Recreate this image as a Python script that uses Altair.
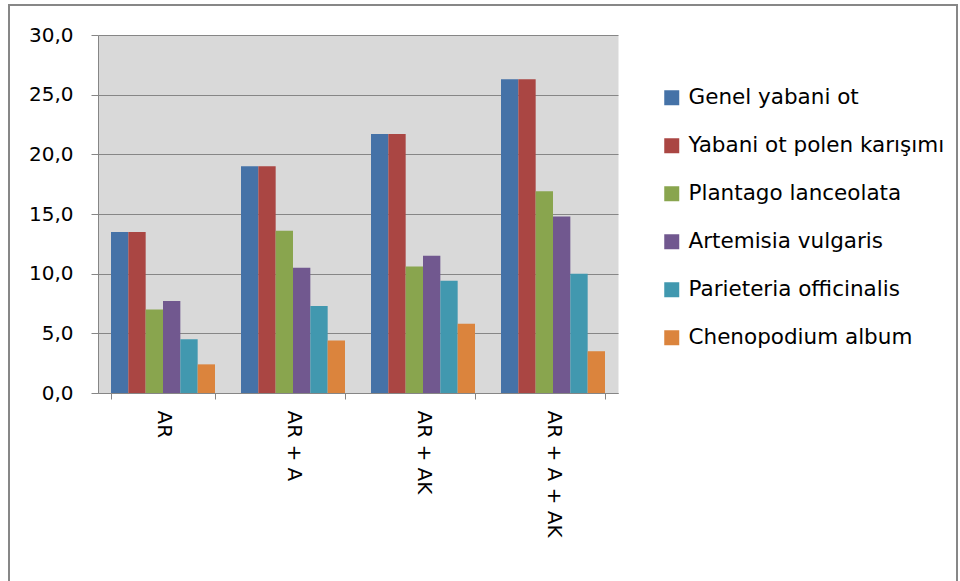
import altair as alt
import pandas as pd

categories = ["AR", "AR + A", "AR + AK", "AR + A + AK"]
series_names = [
    "Genel yabani ot",
    "Yabani ot polen karışımı",
    "Plantago lanceolata",
    "Artemisia vulgaris",
    "Parieteria officinalis",
    "Chenopodium album",
]
genel = [13.5, 19.0, 21.7, 26.3]
yabani = [13.5, 19.0, 21.7, 26.3]
plantago = [7.0, 13.6, 10.6, 16.9]
artemisia = [7.7, 10.5, 11.5, 14.8]
parieteria = [4.5, 7.3, 9.4, 10.0]
chenopodium = [2.4, 4.4, 5.8, 3.5]
colors = ["#4572A7", "#AA4643", "#89A54E", "#71588F", "#4198AF", "#DB843D"]

series_values = [genel, yabani, plantago, artemisia, parieteria, chenopodium]
rows = []
for si, (name, vals) in enumerate(zip(series_names, series_values)):
    for ci, cat in enumerate(categories):
        rows.append({"cat": cat, "series": name, "order": si, "value": vals[ci]})
df = pd.DataFrame(rows)

FONT = "DejaVu Sans"

bars = alt.Chart(df).mark_bar().encode(
    x=alt.X("cat:N", sort=categories, title=None,
            scale=alt.Scale(paddingInner=0.2, paddingOuter=0.1),
            axis=alt.Axis(labelAngle=90, tickBand="extent", tickSize=6,
                          labelPadding=11, labelFont=FONT, labelFontSize=20,
                          labelColor="black", domainColor="#868686",
                          tickColor="#868686", grid=False, labelLimit=300)),
    xOffset=alt.XOffset("series:N", sort=series_names,
                        scale=alt.Scale(paddingInner=0, paddingOuter=0)),
    y=alt.Y("value:Q", title=None,
            scale=alt.Scale(domain=[0, 30], nice=False),
            axis=alt.Axis(values=[0, 5, 10, 15, 20, 25, 30],
                          labelExpr="replace(format(datum.value, '.1f'), '.', ',')",
                          tickSize=7, labelPadding=18, labelFont=FONT,
                          labelFontSize=20, labelColor="black",
                          domainColor="#868686", tickColor="#868686",
                          gridColor="#868686", gridWidth=1.2)),
    color=alt.Color("series:N", sort=series_names,
                    scale=alt.Scale(domain=series_names, range=colors),
                    legend=alt.Legend(title=None, orient="none", legendX=563,
                                      legendY=52, symbolType="square",
                                      symbolSize=225, symbolStrokeWidth=0,
                                      labelFont=FONT, labelFontSize=21.5,
                                      labelColor="black", labelOffset=6,
                                      rowPadding=25, labelLimit=400)),
)

frame = alt.Chart(pd.DataFrame({"a": [0]})).mark_rect(
    fill="transparent", stroke="#878787", strokeWidth=2
).encode(
    x=alt.value(-89), x2=alt.value(859), y=alt.value(-30), y2=alt.value(600)
)

chart = alt.layer(bars, frame).properties(
    width=520, height=358,
    padding={"left": 98, "top": 35, "right": 342, "bottom": 188},
    autosize=alt.AutoSizeParams(type="none"),
    background="white",
).configure_view(fill="#D9D9D9", stroke="transparent")

chart.save("out.html", embed_options={"renderer": "svg", "actions": False})
